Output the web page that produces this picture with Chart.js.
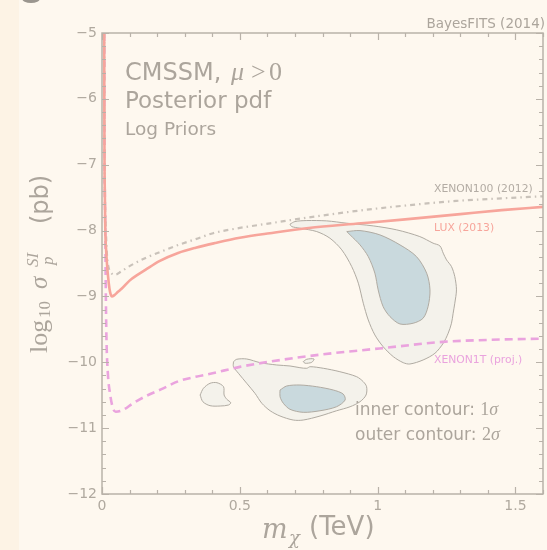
<!DOCTYPE html>
<html>
<head>
<meta charset="utf-8">
<script src="https://cdn.jsdelivr.net/npm/chart.js@4.4.1/dist/chart.umd.min.js"></script>
<style>
html,body{margin:0;padding:0;background:#fef8ef;}
canvas{display:block;}
</style>
</head>
<body>
<canvas id="c" width="547" height="550"></canvas>
<script>
// ---------- data ----------
const xTickValues = [0, 0.5, 1, 1.5];
const yTickValues = [-12, -11, -10, -9, -8, -7, -6, -5];

const luxX = [0.008, 0.0085, 0.009, 0.0105, 0.012, 0.015, 0.018, 0.022, 0.027, 0.031, 0.036, 0.045, 0.058, 0.072, 0.1, 0.13, 0.156, 0.21, 0.276, 0.34, 0.41, 0.5, 0.609, 0.75, 0.94, 1.1, 1.3, 1.45, 1.6];
const luxY = [-5.0, -6.0, -6.8, -7.5, -8.0, -8.3, -8.5, -8.7, -8.88, -8.96, -9.0, -8.98, -8.93, -8.88, -8.76, -8.67, -8.6, -8.46, -8.34, -8.26, -8.19, -8.11, -8.04, -7.96, -7.89, -7.83, -7.75, -7.69, -7.64];

const xe100X = [0.008, 0.0085, 0.009, 0.0105, 0.013, 0.016, 0.019, 0.024, 0.033, 0.048, 0.07, 0.1, 0.156, 0.22, 0.276, 0.34, 0.403, 0.5, 0.609, 0.75, 0.947, 1.1, 1.285, 1.45, 1.6];
const xe100Y = [-5.0, -6.0, -6.8, -7.5, -7.85, -8.2, -8.42, -8.56, -8.64, -8.67, -8.62, -8.54, -8.42, -8.31, -8.22, -8.13, -8.04, -7.96, -7.89, -7.8, -7.69, -7.62, -7.55, -7.51, -7.48];

const xe1tX = [0.008, 0.0085, 0.009, 0.0105, 0.012, 0.0135, 0.016, 0.021, 0.03, 0.04, 0.05, 0.078, 0.11, 0.156, 0.22, 0.276, 0.34, 0.397, 0.5, 0.609, 0.8, 1.007, 1.237, 1.4, 1.6];
const xe1tY = [-5.0, -6.0, -6.8, -7.5, -8.0, -8.8, -9.6, -10.15, -10.5, -10.7, -10.75, -10.72, -10.63, -10.52, -10.4, -10.29, -10.22, -10.17, -10.07, -9.99, -9.88, -9.79, -9.69, -9.66, -9.64];

// 2-sigma (outer) contours
const outerUpperX = [0.682, 0.700, 0.743, 0.815, 0.888, 0.984, 1.069, 1.153, 1.201, 1.226, 1.238, 1.250, 1.268, 1.280, 1.286, 1.280, 1.274, 1.268, 1.256, 1.238, 1.208, 1.165, 1.117, 1.093, 1.057, 1.020, 0.990, 0.966, 0.948, 0.930, 0.906, 0.870, 0.827, 0.779, 0.718, 0.688, 0.682];
const outerUpperY = [-7.903, -7.863, -7.848, -7.853, -7.888, -7.929, -7.989, -8.091, -8.191, -8.233, -8.343, -8.445, -8.547, -8.699, -8.901, -9.103, -9.255, -9.407, -9.559, -9.711, -9.863, -9.965, -10.026, -10.006, -9.915, -9.763, -9.585, -9.357, -9.103, -8.799, -8.547, -8.293, -8.116, -8.015, -7.964, -7.939, -7.903];

const outerLowerX = [0.477, 0.489, 0.525, 0.574, 0.634, 0.682, 0.718, 0.743, 0.755, 0.803, 0.863, 0.924, 0.948, 0.960, 0.958, 0.936, 0.900, 0.851, 0.791, 0.730, 0.694, 0.646, 0.610, 0.580, 0.555, 0.525, 0.495, 0.477, 0.477];
const outerLowerY = [-9.991, -9.954, -9.950, -10.006, -10.041, -10.056, -10.082, -10.091, -10.067, -10.091, -10.143, -10.219, -10.295, -10.371, -10.497, -10.599, -10.675, -10.736, -10.816, -10.877, -10.877, -10.816, -10.736, -10.623, -10.471, -10.319, -10.167, -10.067, -9.991];

const outerBlobX = [0.356, 0.368, 0.392, 0.417, 0.441, 0.443, 0.453, 0.467, 0.459, 0.429, 0.392, 0.366, 0.356];
const outerBlobY = [-10.497, -10.395, -10.319, -10.310, -10.371, -10.497, -10.562, -10.614, -10.649, -10.664, -10.659, -10.599, -10.497];

const outerTinyX = [0.730, 0.743, 0.769, 0.761, 0.737, 0.730];
const outerTinyY = [-9.991, -9.954, -9.950, -10.0, -10.015, -9.991];

// 1-sigma (inner) contours
const innerUpperX = [0.888, 0.936, 1.008, 1.081, 1.141, 1.178, 1.190, 1.183, 1.165, 1.129, 1.081, 1.045, 1.020, 1.002, 0.990, 0.966, 0.936, 0.900, 0.888];
const innerUpperY = [-8.015, -8.000, -8.065, -8.217, -8.395, -8.647, -8.901, -9.155, -9.331, -9.407, -9.418, -9.307, -9.155, -8.901, -8.647, -8.395, -8.217, -8.065, -8.015];

const innerLowerX = [0.646, 0.670, 0.718, 0.779, 0.839, 0.875, 0.882, 0.851, 0.791, 0.730, 0.682, 0.658, 0.646, 0.646];
const innerLowerY = [-10.421, -10.360, -10.345, -10.371, -10.421, -10.482, -10.573, -10.675, -10.736, -10.760, -10.714, -10.623, -10.523, -10.421];

// ---------- helpers ----------
const pts = (xs, ys) => xs.map((x, i) => ({x: x, y: ys[i]}));
const C = {
  text: '#aca59c', axis: '#b9b2a9', tick: '#b0a99f',
  lux: '#f7a59b', xe100: '#c9c2ba', xe1t: '#eaa3de',
  outerFill: '#f4f2eb', innerFill: '#c9d9dd', contourLine: '#b0aba2'
};

function contour(xs, ys, fillColor, order) {
  return {
    data: pts(xs, ys), showLine: true, fill: 'shape', tension: 0.3,
    backgroundColor: fillColor, borderColor: C.contourLine, borderWidth: 1,
    pointRadius: 0, order: order
  };
}
function curve(xs, ys, color, width, dash, order) {
  return {
    data: pts(xs, ys), showLine: true, fill: false,
    cubicInterpolationMode: 'monotone',
    borderColor: color, borderWidth: width, borderDash: dash,
    pointRadius: 0, order: order
  };
}

// ---------- plugins ----------
const decor = {
  id: 'decor',
  beforeDraw(chart) {
    const ctx = chart.ctx;
    ctx.save();
    ctx.fillStyle = '#fef8ef';
    ctx.fillRect(0, 0, chart.width, chart.height);
    ctx.fillStyle = '#fdf3e5';
    ctx.fillRect(0, 0, 19, chart.height);
    ctx.fillStyle = '#9b968f';
    ctx.beginPath();
    ctx.ellipse(31, -1.5, 9, 4.5, 0, 0, Math.PI * 2);
    ctx.fill();
    ctx.restore();
  },
  afterDatasetsDraw(chart) {
    const ctx = chart.ctx, a = chart.chartArea;
    const xs = chart.scales.x, ys = chart.scales.y;
    ctx.save();
    ctx.strokeStyle = C.axis;
    ctx.lineWidth = 1.5;
    ctx.strokeRect(a.left, a.top, a.right - a.left, a.bottom - a.top);
    ctx.lineWidth = 1.2;
    ctx.beginPath();
    for (let i = 0; i <= 16; i++) {
      const v = i / 10;
      const px = Math.round(xs.getPixelForValue(v)) + 0.5;
      const len = (i % 5 === 0) ? 7 : 4;
      ctx.moveTo(px, a.bottom); ctx.lineTo(px, a.bottom - len);
      ctx.moveTo(px, a.top); ctx.lineTo(px, a.top + len);
    }
    for (let i = 0; i <= 35; i++) {
      const v = -12 + i * 0.2;
      const py = Math.round(ys.getPixelForValue(v)) + 0.5;
      const len = (i % 5 === 0) ? 7 : 4;
      ctx.moveTo(a.left, py); ctx.lineTo(a.left + len, py);
      ctx.moveTo(a.right, py); ctx.lineTo(a.right - len, py);
    }
    ctx.stroke();
    ctx.restore();
  },
  afterDraw(chart) {
    const ctx = chart.ctx;
    const SANS = '"DejaVu Sans", sans-serif';
    const SERIF = '"Liberation Serif", "DejaVu Serif", serif';
    ctx.save();
    ctx.textBaseline = 'alphabetic';
    ctx.textAlign = 'left';
    ctx.fillStyle = C.text;
    ctx.font = '24px ' + SANS;
    ctx.fillText('CMSSM,', 125, 80);
    ctx.font = 'italic 26px ' + SERIF;
    ctx.fillText('\u03BC', 231, 80);
    ctx.font = '26px ' + SERIF;
    ctx.fillText('>', 251, 80);
    ctx.fillText('0', 269, 80);
    ctx.font = '23px ' + SANS;
    ctx.fillText('Posterior pdf', 125, 107.5);
    ctx.font = '18.5px ' + SANS;
    ctx.fillText('Log Priors', 125, 135);
    ctx.font = '13.5px ' + SANS;
    ctx.textAlign = 'right';
    ctx.fillText('BayesFITS (2014)', 545, 28);
    ctx.textAlign = 'left';
    ctx.font = '10.8px ' + SANS;
    ctx.fillStyle = '#b3aca4';
    ctx.fillText('XENON100 (2012)', 434, 191.5);
    ctx.fillStyle = C.lux;
    ctx.fillText('LUX (2013)', 434, 231);
    ctx.fillStyle = C.xe1t;
    ctx.fillText('XENON1T (proj.)', 434, 363);
    ctx.fillStyle = C.text;
    ctx.font = '17px ' + SANS;
    let w = ctx.measureText('inner contour: ').width;
    ctx.fillText('inner contour: ', 355, 415);
    ctx.font = '18px ' + SERIF;
    ctx.fillText('1', 355 + w, 415);
    let w1 = ctx.measureText('1').width;
    ctx.font = 'italic 18px ' + SERIF;
    ctx.fillText('\u03C3', 355 + w + w1, 415);
    ctx.font = '17px ' + SANS;
    w = ctx.measureText('outer contour: ').width;
    ctx.fillText('outer contour: ', 355, 440);
    ctx.font = '18px ' + SERIF;
    ctx.fillText('2', 355 + w, 440);
    w1 = ctx.measureText('2').width;
    ctx.font = 'italic 18px ' + SERIF;
    ctx.fillText('\u03C3', 355 + w + w1, 440);
    ctx.font = 'italic 27px "DejaVu Serif", serif';
    ctx.fillText('m', 262, 538);
    ctx.font = 'italic 18px "DejaVu Serif", serif';
    ctx.fillText('\u03C7', 289, 544);
    ctx.font = '26px ' + SANS;
    ctx.fillText('(TeV)', 309, 534.5);
    ctx.translate(46.5, 353);
    ctx.rotate(-Math.PI / 2);
    ctx.font = '26px ' + SERIF;
    ctx.fillText('log', 0, 0);
    ctx.font = '17px ' + SERIF;
    ctx.fillText('10', 35, 3);
    ctx.font = 'italic 25px ' + SERIF;
    ctx.fillText('\u03C3', 64, 0);
    ctx.font = 'italic 17px ' + SERIF;
    ctx.fillText('SI', 86, -8.5);
    ctx.fillText('p', 88, 6.5);
    ctx.font = '24px ' + SANS;
    ctx.fillText('(pb)', 129, 1);
    ctx.restore();
  }
};

// ---------- chart ----------
new Chart(document.getElementById('c'), {
  type: 'scatter',
  data: {
    datasets: [
      curve(luxX, luxY, C.lux, 2.6, [], 0),
      curve(xe100X, xe100Y, C.xe100, 2.2, [5, 4, 1.5, 4], 1),
      curve(xe1tX, xe1tY, C.xe1t, 2.6, [8, 5], 2),
      contour(innerUpperX, innerUpperY, C.innerFill, 3),
      contour(innerLowerX, innerLowerY, C.innerFill, 3),
      contour(outerUpperX, outerUpperY, C.outerFill, 4),
      contour(outerLowerX, outerLowerY, C.outerFill, 4),
      contour(outerBlobX, outerBlobY, C.outerFill, 4),
      contour(outerTinyX, outerTinyY, C.outerFill, 4)
    ]
  },
  options: {
    responsive: false,
    devicePixelRatio: 1,
    animation: false,
    events: [],
    layout: {padding: {top: 33, right: 4, left: 0, bottom: 0}},
    plugins: {legend: {display: false}, tooltip: {enabled: false}, title: {display: false}},
    scales: {
      x: {
        type: 'linear', min: 0, max: 1.6,
        afterBuildTicks(s) { s.ticks = xTickValues.map(v => ({value: v})); },
        afterFit(s) { s.height = 56; },
        grid: {display: false, drawTicks: false},
        border: {display: false},
        ticks: {
          padding: 4, color: C.tick, maxRotation: 0, autoSkip: false,
          font: {family: 'DejaVu Sans', size: 14},
          callback: v => String(Math.round(v * 10) / 10)
        }
      },
      y: {
        type: 'linear', min: -12, max: -5,
        afterBuildTicks(s) { s.ticks = yTickValues.map(v => ({value: v})); },
        afterFit(s) { s.width = 102; },
        grid: {display: false, drawTicks: false},
        border: {display: false},
        ticks: {
          padding: 5, color: C.tick, autoSkip: false,
          font: {family: 'DejaVu Sans', size: 14},
          callback: v => '\u2212' + Math.abs(v)
        }
      }
    }
  },
  plugins: [decor]
});
</script>
</body>
</html>
